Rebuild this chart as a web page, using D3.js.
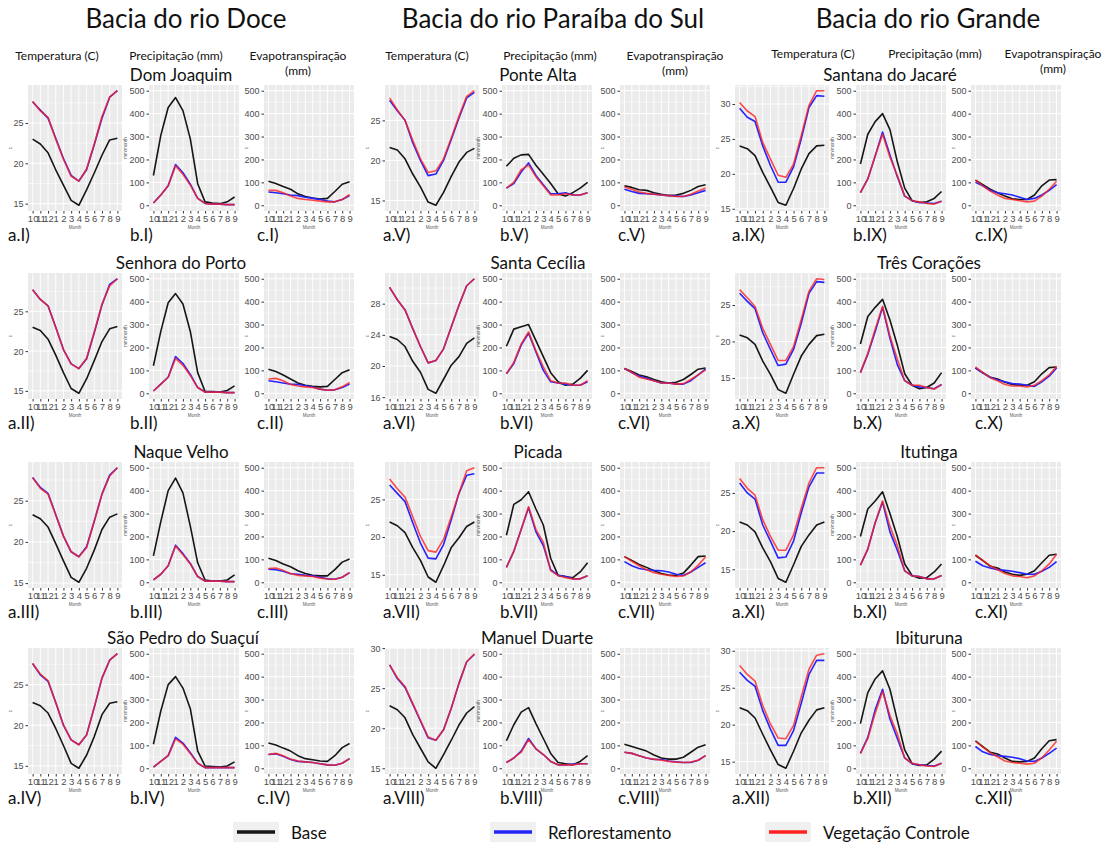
<!DOCTYPE html>
<html>
<head>
<meta charset="utf-8">
<script src="https://cdn.jsdelivr.net/npm/d3@7"></script>
<style>
  body { margin: 0; background: #fff; }
  svg { display: block; }
</style>
</head>
<body>
<div id="viz"></div>
<script>
// Meses na ordem do ano hidrológico (out -> set)
const months = ["10", "11", "12", "1", "2", "3", "4", "5", "6", "7", "8", "9"];
const basins = ["Bacia do rio Doce", "Bacia do rio Paraíba do Sul", "Bacia do rio Grande"];
const stations = [
    ["Dom Joaquim", "Senhora do Porto", "Naque Velho", "São Pedro do Suaçuí"],
    ["Ponte Alta", "Santa Cecília", "Picada", "Manuel Duarte"],
    ["Santana do Jacaré", "Três Corações", "Itutinga", "Ibituruna"]
];
const romans = ["I", "II", "III", "IV", "V", "VI", "VII", "VIII", "IX", "X", "XI", "XII"];
const seriesNames = ["Base", "Reflorestamento", "Vegetação Controle"];

// Temperatura (C), uma linha por estação (I..XII)
const tempBase = [
    [23.0, 22.4, 21.3, 19.2, 17.3, 15.4, 14.8, 16.7, 18.8, 21.0, 22.9, 23.1],
    [23.0, 22.6, 21.5, 19.5, 17.3, 15.3, 14.7, 16.5, 18.8, 21.2, 22.8, 23.1],
    [23.3, 22.8, 21.8, 19.8, 17.7, 15.7, 15.1, 16.8, 19.0, 21.5, 23.0, 23.4],
    [22.8, 22.4, 21.5, 19.6, 17.5, 15.3, 14.7, 16.3, 18.6, 21.3, 22.7, 22.9],
    [21.6, 21.3, 20.2, 18.3, 16.7, 14.8, 14.4, 16.0, 18.0, 19.8, 21.0, 21.5],
    [23.8, 23.4, 22.5, 20.6, 19.2, 17.0, 16.5, 18.3, 20.1, 21.2, 22.9, 23.6],
    [22.0, 21.5, 20.6, 18.6, 16.9, 14.7, 14.0, 16.2, 18.6, 19.9, 21.4, 22.0],
    [22.8, 22.3, 21.3, 19.2, 17.5, 15.8, 15.0, 16.7, 18.5, 20.4, 21.9, 22.7],
    [24.0, 23.6, 22.6, 20.2, 18.1, 15.9, 15.5, 17.9, 20.7, 22.9, 24.0, 24.1],
    [20.9, 20.5, 19.6, 17.3, 15.5, 13.4, 12.9, 15.5, 18.0, 19.6, 20.8, 21.0],
    [21.2, 20.8, 19.9, 17.8, 16.0, 13.8, 13.3, 15.6, 18.0, 19.5, 20.8, 21.2],
    [22.3, 21.9, 20.9, 18.7, 16.6, 14.6, 14.1, 16.4, 18.9, 20.6, 22.0, 22.3]
];
const tempReflo = [
    [27.6, 26.6, 25.6, 23.1, 20.6, 18.5, 17.8, 19.2, 22.3, 25.6, 28.2, 29.0],
    [27.7, 26.5, 25.7, 23.0, 20.2, 18.4, 17.8, 19.0, 22.3, 25.8, 28.4, 29.1],
    [27.8, 26.6, 25.9, 23.3, 20.7, 18.8, 18.2, 19.4, 22.5, 25.8, 28.1, 29.0],
    [27.6, 26.2, 25.4, 22.8, 20.0, 18.2, 17.6, 18.8, 22.2, 25.8, 28.0, 28.8],
    [27.5, 26.2, 25.0, 22.2, 20.0, 18.1, 18.3, 20.0, 22.6, 25.3, 27.8, 28.5],
    [30.1, 28.5, 27.2, 24.8, 22.5, 20.4, 20.7, 22.2, 25.0, 27.8, 30.3, 31.2],
    [26.9, 25.8, 24.7, 21.9, 19.2, 17.2, 17.1, 19.0, 22.3, 25.8, 28.2, 28.4],
    [27.9, 26.2, 25.1, 23.0, 20.9, 18.8, 18.5, 19.8, 22.5, 25.6, 28.3, 29.2],
    [29.4, 28.1, 27.5, 24.0, 21.2, 18.8, 18.8, 21.0, 25.0, 29.5, 31.2, 31.1],
    [26.6, 25.5, 24.5, 21.2, 18.9, 16.7, 16.9, 18.9, 22.5, 26.6, 28.2, 28.1],
    [26.3, 25.0, 24.2, 20.8, 18.7, 16.5, 16.6, 18.7, 22.4, 25.8, 27.6, 27.6],
    [27.1, 26.0, 25.2, 21.9, 19.4, 17.2, 17.2, 19.2, 22.9, 26.8, 28.7, 28.7]
];
const tempVeg = [
    [27.7, 26.5, 25.7, 23.0, 20.5, 18.4, 17.8, 19.3, 22.4, 25.8, 28.2, 29.0],
    [27.7, 26.5, 25.7, 23.0, 20.2, 18.4, 17.8, 19.1, 22.4, 25.9, 28.2, 29.1],
    [27.8, 26.5, 25.8, 23.3, 20.7, 18.8, 18.2, 19.3, 22.5, 25.8, 28.0, 29.0],
    [27.6, 26.3, 25.5, 22.8, 20.0, 18.2, 17.6, 18.8, 22.2, 25.8, 28.0, 28.8],
    [27.8, 26.3, 25.0, 22.5, 20.2, 18.5, 18.7, 20.2, 22.8, 25.5, 28.0, 28.7],
    [30.1, 28.5, 27.2, 24.8, 22.5, 20.4, 20.7, 22.2, 25.0, 27.8, 30.3, 31.2],
    [27.7, 26.4, 25.3, 22.7, 20.1, 18.2, 18.0, 19.7, 22.7, 25.8, 28.8, 29.2],
    [27.9, 26.3, 25.2, 23.1, 21.0, 18.9, 18.5, 19.8, 22.5, 25.6, 28.3, 29.3],
    [30.2, 29.0, 28.2, 24.5, 22.1, 19.8, 19.5, 21.4, 25.5, 29.8, 31.9, 31.9],
    [27.1, 26.0, 24.8, 21.8, 19.6, 17.4, 17.4, 19.3, 23.0, 26.9, 28.6, 28.5],
    [26.9, 25.6, 24.7, 21.5, 19.3, 17.5, 17.5, 19.5, 23.0, 26.3, 28.3, 28.3],
    [28.0, 26.8, 25.9, 22.6, 20.1, 18.2, 18.1, 19.9, 23.8, 27.5, 29.4, 29.6]
];
const tempTicks = [
    [15, 20, 25], [15, 20, 25], [15, 20, 25], [15, 20, 25],
    [15, 20, 25], [16, 20, 24, 28], [15, 20, 25], [15, 20, 25, 30],
    [15, 20, 25, 30], [15, 20, 25], [15, 20, 25], [15, 20, 25, 30]
];

// Precipitação (mm)
const precBase = [
    [130, 305, 427, 470, 413, 290, 94, 15, 10, 7, 15, 36],
    [120, 270, 395, 435, 390, 270, 90, 8, 8, 5, 12, 32],
    [115, 265, 400, 455, 390, 245, 85, 10, 5, 5, 10, 32],
    [105, 250, 365, 400, 350, 260, 75, 10, 8, 5, 10, 28],
    [170, 205, 220, 222, 175, 135, 95, 50, 40, 55, 75, 100],
    [205, 280, 290, 300, 230, 160, 90, 50, 35, 40, 65, 100],
    [205, 340, 360, 395, 320, 250, 105, 30, 25, 20, 45, 85],
    [120, 190, 245, 265, 195, 130, 65, 25, 20, 15, 30, 55],
    [180, 310, 365, 400, 330, 190, 75, 20, 12, 15, 30, 60],
    [215, 335, 375, 410, 320, 210, 85, 35, 20, 25, 45, 90],
    [200, 320, 355, 395, 300, 200, 80, 30, 18, 20, 45, 80],
    [195, 330, 390, 425, 345, 210, 80, 20, 12, 15, 40, 75]
];
const precReflo = [
    [10, 45, 85, 178, 142, 92, 30, 8, 5, 5, 3, 3],
    [10, 40, 70, 160, 130, 82, 25, 5, 5, 5, 3, 3],
    [10, 35, 72, 162, 125, 82, 25, 5, 5, 5, 3, 3],
    [5, 30, 55, 135, 110, 68, 22, 3, 3, 3, 3, 3],
    [75, 95, 145, 185, 130, 90, 50, 50, 55, 45, 45, 55],
    [85, 130, 210, 262, 180, 100, 50, 45, 40, 35, 35, 50],
    [65, 135, 230, 325, 220, 160, 55, 30, 25, 15, 15, 28],
    [25, 45, 75, 130, 85, 60, 30, 15, 15, 18, 20, 20],
    [55, 115, 215, 320, 220, 125, 40, 20, 12, 10, 8, 18],
    [90, 170, 270, 375, 240, 125, 55, 35, 28, 25, 20, 38],
    [75, 145, 260, 350, 220, 140, 50, 28, 25, 15, 15, 30],
    [65, 135, 255, 345, 215, 130, 45, 20, 15, 12, 10, 22]
];
const precVeg = [
    [10, 45, 85, 172, 135, 88, 30, 8, 5, 5, 3, 3],
    [10, 40, 70, 152, 122, 78, 25, 5, 5, 5, 3, 3],
    [10, 35, 72, 158, 120, 80, 25, 5, 5, 5, 3, 3],
    [5, 30, 55, 128, 105, 65, 22, 3, 3, 3, 3, 3],
    [75, 100, 155, 175, 125, 85, 45, 45, 50, 45, 45, 55],
    [85, 135, 215, 268, 185, 115, 55, 45, 45, 35, 35, 55],
    [65, 135, 230, 330, 230, 175, 50, 30, 20, 15, 15, 28],
    [25, 45, 70, 125, 85, 60, 30, 15, 15, 15, 20, 20],
    [55, 115, 215, 310, 210, 130, 40, 20, 15, 8, 5, 18],
    [90, 175, 280, 380, 250, 150, 55, 35, 35, 25, 18, 38],
    [75, 145, 260, 355, 245, 160, 50, 28, 25, 15, 15, 30],
    [65, 130, 240, 335, 230, 150, 45, 22, 15, 10, 8, 22]
];

// Evapotranspiração (mm)
const etBase = [
    [105, 95, 82, 70, 50, 38, 32, 27, 30, 60, 92, 103],
    [105, 95, 80, 62, 45, 35, 30, 28, 30, 60, 90, 103],
    [105, 95, 80, 68, 50, 38, 30, 28, 28, 55, 88, 102],
    [110, 102, 88, 75, 55, 42, 37, 32, 30, 55, 90, 108],
    [85, 78, 68, 65, 55, 48, 43, 45, 52, 65, 82, 90],
    [108, 95, 80, 72, 60, 50, 45, 48, 60, 82, 105, 110],
    [112, 95, 78, 65, 50, 38, 32, 30, 40, 75, 112, 115],
    [105, 95, 85, 75, 58, 45, 40, 40, 48, 70, 92, 103],
    [110, 90, 70, 55, 40, 28, 25, 25, 45, 85, 110, 112],
    [110, 90, 70, 62, 48, 38, 35, 35, 50, 85, 112, 115],
    [118, 95, 70, 62, 45, 35, 30, 35, 50, 85, 118, 122],
    [120, 95, 70, 62, 45, 30, 28, 30, 45, 85, 120, 125]
];
const etReflo = [
    [58, 55, 50, 45, 42, 35, 30, 25, 18, 15, 25, 42],
    [55, 50, 45, 40, 38, 33, 27, 18, 13, 15, 25, 40],
    [57, 55, 48, 37, 35, 30, 28, 22, 15, 13, 22, 42],
    [60, 63, 52, 38, 30, 28, 25, 20, 15, 13, 22, 42],
    [70, 60, 52, 50, 48, 45, 42, 40, 38, 45, 55, 65],
    [108, 90, 75, 65, 55, 45, 45, 40, 40, 55, 80, 105],
    [90, 72, 60, 55, 52, 50, 45, 35, 30, 45, 65, 85],
    [70, 65, 55, 45, 38, 38, 32, 28, 25, 25, 35, 55],
    [100, 85, 65, 55, 50, 45, 35, 25, 30, 45, 65, 90],
    [110, 88, 70, 58, 50, 42, 40, 35, 30, 50, 75, 110],
    [92, 72, 62, 55, 52, 48, 42, 35, 35, 48, 65, 90],
    [95, 72, 60, 55, 52, 48, 42, 32, 30, 45, 65, 88]
];
const etVeg = [
    [65, 65, 55, 40, 30, 25, 22, 18, 15, 15, 25, 47],
    [62, 65, 55, 38, 32, 28, 25, 18, 13, 15, 28, 47],
    [60, 62, 52, 38, 30, 28, 25, 18, 14, 13, 22, 42],
    [60, 65, 55, 40, 32, 28, 25, 20, 15, 13, 22, 42],
    [80, 70, 58, 52, 48, 45, 42, 38, 38, 48, 62, 75],
    [108, 92, 70, 62, 55, 45, 45, 40, 42, 60, 80, 102],
    [112, 92, 72, 55, 42, 35, 30, 25, 28, 45, 75, 110],
    [70, 65, 55, 45, 40, 35, 30, 27, 25, 27, 35, 55],
    [110, 85, 62, 45, 30, 25, 20, 15, 18, 40, 70, 105],
    [115, 90, 68, 55, 38, 32, 32, 28, 35, 55, 80, 118],
    [120, 95, 72, 55, 38, 28, 25, 20, 28, 50, 80, 122],
    [118, 92, 68, 50, 32, 25, 22, 18, 22, 45, 80, 118]
];
const mmTicks = [0, 100, 200, 300, 400, 500];

const colors = ["#161616", "#2424ff", "#ff2020"];

// ---- layout ----
const width = 1112, height = 846;
const blockX = [[28, 149, 264], [385, 502, 620], [735, 856, 971]];
const panelW = [94, 90, 90];
const rowY = [85, 273, 462, 648];
const panelH = 126;
const basinTitleX = [186, 553, 928];
const headerX = [[57, 176, 298], [427, 550, 675], [813, 935, 1053]];
const stationTitleX = [[181, 181, 181, 183], [538, 538, 538, 537], [890, 929, 929, 929]];
const subLabelX = [[8, 130, 257], [383, 500, 618], [732, 853, 975]];

const axisFont = "'Liberation Sans', Arial, sans-serif";
const textFont = "Lato, 'Open Sans', sans-serif";

const svg = d3.select('#viz').append('svg')
    .attr('width', width)
    .attr('height', height);

svg.append('rect').attr('width', width).attr('height', height).attr('fill', '#fff');

// títulos das bacias
svg.selectAll('.basin')
    .data(basins)
    .enter().append('text')
    .attr('class', 'basin')
    .attr('x', (d, i) => basinTitleX[i])
    .attr('y', 18)
    .attr('text-anchor', 'middle')
    .attr('dominant-baseline', 'central')
    .attr('font-family', textFont)
    .attr('font-size', 26)
    .attr('fill', '#111')
    .text(d => d);

// cabeçalhos das colunas
basins.forEach((b, bi) => {
    const hx = headerX[bi];
    const hy = bi === 2 ? 53 : 55;
    const h = svg.append('g').attr('font-family', textFont).attr('font-size', 12)
        .attr('fill', '#111').attr('text-anchor', 'middle');
    h.append('text').attr('x', hx[0]).attr('y', hy).attr('dominant-baseline', 'central').text('Temperatura (C)');
    h.append('text').attr('x', hx[1]).attr('y', hy).attr('dominant-baseline', 'central').text('Precipitação (mm)');
    h.append('text').attr('x', hx[2]).attr('y', hy).attr('dominant-baseline', 'central').text('Evapotranspiração');
    h.append('text').attr('x', hx[2]).attr('y', hy + 15).attr('dominant-baseline', 'central').text('(mm)');
});

function drawPanel(x0, y0, w, h, series, domain, ticks, yTitle) {
    const g = svg.append('g').attr('transform', `translate(${x0},${y0})`);
    const x = d3.scalePoint().domain(months).range([0, w]).padding(0.6);
    const y = d3.scaleLinear().domain(domain).range([h, 0]);

    g.append('rect').attr('width', w).attr('height', h).attr('fill', '#EBEBEB');

    // grade secundária
    const minor = [];
    for (let i = 0; i < ticks.length - 1; i++) minor.push((ticks[i] + ticks[i + 1]) / 2);
    const step = ticks[1] - ticks[0];
    minor.push(ticks[0] - step / 2, ticks[ticks.length - 1] + step / 2);
    g.selectAll('.minor').data(minor.filter(v => v > domain[0] && v < domain[1]))
        .enter().append('line')
        .attr('x1', 0).attr('x2', w)
        .attr('y1', d => y(d)).attr('y2', d => y(d))
        .attr('stroke', '#fff').attr('stroke-width', 0.5);
    const vis = ticks.filter(v => v >= domain[0] && v <= domain[1]);
    g.selectAll('.major').data(vis)
        .enter().append('line')
        .attr('x1', 0).attr('x2', w)
        .attr('y1', d => y(d)).attr('y2', d => y(d))
        .attr('stroke', '#fff').attr('stroke-width', 1);
    g.selectAll('.vgrid').data(months)
        .enter().append('line')
        .attr('x1', d => x(d)).attr('x2', d => x(d))
        .attr('y1', 0).attr('y2', h)
        .attr('stroke', '#fff').attr('stroke-width', 0.9);

    // eixo y
    const ya = g.append('g').call(d3.axisLeft(y).tickValues(vis).tickSize(2.5).tickPadding(2));
    ya.select('.domain').remove();
    ya.selectAll('line').attr('stroke', '#333');
    ya.selectAll('text').attr('font-family', axisFont).attr('font-size', 9).attr('fill', '#4d4d4d');

    // eixo x
    const xa = g.append('g').attr('transform', `translate(0,${h})`)
        .call(d3.axisBottom(x).tickSize(2.5).tickPadding(1.5));
    xa.select('.domain').remove();
    xa.selectAll('line').attr('stroke', '#333');
    xa.selectAll('text').attr('font-family', axisFont).attr('font-size', 9.5).attr('fill', '#4d4d4d');

    g.append('text')
        .attr('x', w / 2).attr('y', h + 18)
        .attr('text-anchor', 'middle')
        .attr('font-family', axisFont).attr('font-size', 4.5).attr('fill', '#555')
        .text('Month');
    g.append('text')
        .attr('transform', `translate(${yTitle === 'c' ? -16 : -22},${h / 2}) rotate(-90)`)
        .attr('text-anchor', 'middle')
        .attr('font-family', axisFont).attr('font-size', 4.5).attr('fill', '#555')
        .text(yTitle);

    const line = d3.line().x((d, i) => x(months[i])).y(d => y(d));
    series.forEach((s, k) => {
        g.append('path')
            .datum(s)
            .attr('d', line)
            .attr('fill', 'none')
            .attr('stroke', colors[k])
            .attr('stroke-opacity', k === 2 ? 0.8 : 1)
            .attr('stroke-width', 1.6)
            .attr('stroke-linejoin', 'round');
    });
}

basins.forEach((b, bi) => {
    stations[bi].forEach((name, ri) => {
        const idx = bi * 4 + ri;
        const top = rowY[ri];

        svg.append('text')
            .attr('x', stationTitleX[bi][ri])
            .attr('y', top - 11)
            .attr('text-anchor', 'middle')
            .attr('dominant-baseline', 'central')
            .attr('font-family', textFont)
            .attr('font-size', 17)
            .attr('fill', '#111')
            .text(name);

        // temperatura: domínio com expansão de 5% como no ggplot
        const tAll = tempBase[idx].concat(tempReflo[idx], tempVeg[idx]);
        const tMin = d3.min(tAll), tMax = d3.max(tAll);
        const pad = (tMax - tMin) * 0.05;
        drawPanel(blockX[bi][0], top, panelW[0], panelH,
            [tempBase[idx], tempReflo[idx], tempVeg[idx]],
            [tMin - pad, tMax + pad], tempTicks[idx], 'c');

        drawPanel(blockX[bi][1], top, panelW[1], panelH,
            [precBase[idx], precReflo[idx], precVeg[idx]],
            [-25, 525], mmTicks, 'mm/month');

        drawPanel(blockX[bi][2], top, panelW[2], panelH,
            [etBase[idx], etReflo[idx], etVeg[idx]],
            [-25, 525], mmTicks, 'c');

        ['a', 'b', 'c'].forEach((p, pi) => {
            svg.append('text')
                .attr('x', subLabelX[bi][pi])
                .attr('y', top + panelH + 23)
                .attr('dominant-baseline', 'central')
                .attr('font-family', textFont)
                .attr('font-size', 17)
                .attr('fill', '#111')
                .text(`${p}.${romans[idx]})`);
        });
    });
});

// legenda
const legendX = [233, 490, 765];
const leg = svg.selectAll('.leg')
    .data(seriesNames)
    .enter().append('g')
    .attr('class', 'leg')
    .attr('transform', (d, i) => `translate(${legendX[i]},822)`);
leg.append('rect').attr('width', 46).attr('height', 20).attr('fill', '#F0F0F0');
leg.append('line')
    .attr('x1', 4).attr('x2', 42).attr('y1', 10).attr('y2', 10)
    .attr('stroke', (d, i) => colors[i]).attr('stroke-width', 3.5);
leg.append('text')
    .attr('x', 58).attr('y', 10)
    .attr('dominant-baseline', 'central')
    .attr('font-family', textFont)
    .attr('font-size', 17)
    .attr('fill', '#111')
    .text(d => d);
</script>
</body>
</html>
